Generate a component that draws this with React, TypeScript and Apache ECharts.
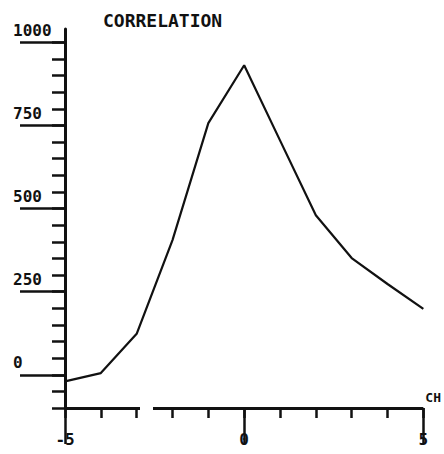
import React, { useEffect, useRef } from "react";
import * as echarts from "echarts";

const lagValues = [-5, -4, -3, -2, -1, 0, 1, 2, 3, 4, 5];
const correlationValues = [-20, 5, 123, 405, 757, 931, 705, 480, 351, 273, 198];
const yLabelValues = [0, 250, 500, 750, 1000];
const yTickValues = [
  -100, -50, 0, 50, 100, 150, 200, 250, 300, 350, 400, 450, 500, 550, 600, 650,
  700, 750, 800, 850, 900, 950, 1000,
];
const xLabelValues = [-5, 0, 5];
const xTickValues = [-5, -4, -3, -2, -1, 0, 1, 2, 3, 4, 5];

const INK = "#111";
const FONT = "DejaVu Sans Mono";

export default function App() {
  const ref = useRef<HTMLDivElement>(null);
  useEffect(() => {
    if (!ref.current) return;
    const chart = echarts.init(ref.current, undefined, { renderer: "svg" });
    const yCommon = {
      type: "value",
      min: -100,
      max: 1040,
      position: "left",
      splitLine: { show: false },
    };
    const xCommon = {
      type: "value",
      min: -5,
      max: 5,
      position: "bottom",
      splitLine: { show: false },
    };
    chart.setOption({
      animation: false,
      backgroundColor: "#fff",
      title: {
        text: "CORRELATION",
        left: 98,
        top: 6,
        textStyle: { fontFamily: FONT, fontWeight: "bold", fontSize: 18, color: INK },
      },
      grid: { left: 65, right: 20, top: 29, bottom: 46 },
      xAxis: [
        {
          ...xCommon,
          axisLine: {
            onZero: false,
            lineStyle: { color: INK, width: 3, type: [75, 13, 1000], cap: "butt" },
          },
          axisTick: {
            show: true,
            inside: false,
            length: 10,
            customValues: xTickValues,
            lineStyle: { color: INK, width: 2.5 },
          },
          axisLabel: {
            show: true,
            customValues: xLabelValues,
            formatter: (v: number) => String(v),
            margin: 23,
            fontFamily: FONT,
            fontWeight: "bold",
            fontSize: 16,
            color: INK,
          },
          name: "CH",
          nameLocation: "end",
          nameGap: 2,
          nameTextStyle: {
            fontFamily: FONT,
            fontWeight: "bold",
            fontSize: 13,
            color: INK,
            verticalAlign: "bottom",
            padding: [0, 0, 4, 0],
          },
        },
        {
          ...xCommon,
          axisLine: { show: false, onZero: false },
          axisTick: {
            show: true,
            inside: false,
            length: 36,
            customValues: xLabelValues,
            lineStyle: { color: INK, width: 2.5 },
          },
          axisLabel: { show: false },
        },
      ],
      yAxis: [
        {
          ...yCommon,
          axisLine: { show: true, onZero: false, lineStyle: { color: INK, width: 3 } },
          axisTick: {
            show: true,
            inside: false,
            length: 13,
            customValues: yTickValues,
            lineStyle: { color: INK, width: 2.5 },
          },
          axisLabel: {
            show: true,
            customValues: yLabelValues,
            formatter: (v: number) => String(v),
            margin: 52,
            align: "left",
            verticalAlign: "bottom",
            padding: [0, 0, 4, 0],
            fontFamily: FONT,
            fontWeight: "bold",
            fontSize: 16,
            color: INK,
          },
        },
        {
          ...yCommon,
          axisLine: { show: false, onZero: false },
          axisTick: {
            show: true,
            inside: false,
            length: 45,
            customValues: yLabelValues,
            lineStyle: { color: INK, width: 2.5 },
          },
          axisLabel: { show: false },
        },
      ],
      series: [
        {
          type: "line",
          xAxisIndex: 0,
          yAxisIndex: 0,
          data: lagValues.map((x, i) => [x, correlationValues[i]]),
          symbol: "none",
          lineStyle: { color: INK, width: 2.2 },
        },
      ],
    });
    return () => chart.dispose();
  }, []);
  return (
    <div
      ref={ref}
      style={{ position: "fixed", left: 0, top: 0, width: 444, height: 454, background: "#fff" }}
    />
  );
}
